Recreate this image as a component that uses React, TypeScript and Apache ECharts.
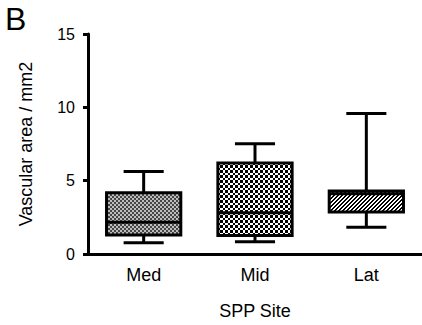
import React, { useEffect, useRef } from "react";
import * as echarts from "echarts";

const categories = ["Med", "Mid", "Lat"];
const whiskerLow = [0.76, 0.83, 1.83];
const q1 = [1.3, 1.26, 2.87];
const median = [2.16, 2.81, 4.1];
const q3 = [4.17, 6.2, 4.3];
const whiskerHigh = [5.63, 7.52, 9.58];
const yTicks = [0, 5, 10, 15];
const yTitle = "Vascular area / mm2";
const xTitle = "SPP Site";
const panelLetter = "B";

function makePattern(kind: string) {
  const c = document.createElement("canvas");
  let w = 4, h = 4;
  if (kind === "mid") { w = 5; h = 5; }
  c.width = w; c.height = h;
  const ctx = c.getContext("2d")!;
  if (kind === "med") {
    ctx.fillStyle = "#bdbdbd";
    ctx.fillRect(0, 0, 4, 4);
    ctx.fillStyle = "#454545";
    ctx.fillRect(0, 0, 2, 2);
    ctx.fillRect(2, 2, 2, 2);
  } else if (kind === "mid") {
    ctx.fillStyle = "#ffffff";
    ctx.fillRect(0, 0, 5, 5);
    ctx.fillStyle = "#000000";
    ctx.fillRect(0, 0, 3, 3);
    ctx.fillRect(3, 3, 2, 2);
  } else {
    ctx.fillStyle = "#ffffff";
    ctx.fillRect(0, 0, 4, 4);
    ctx.fillStyle = "#000000";
    for (let x = 0; x < 4; x++) {
      for (let y = 0; y < 4; y++) {
        if ((x + y) % 4 < 2) ctx.fillRect(x, y, 1, 1);
      }
    }
  }
  return { image: c, repeat: "repeat", imageWidth: w, imageHeight: h } as any;
}

export default function App() {
  const ref = useRef<HTMLDivElement>(null);
  useEffect(() => {
    if (!ref.current) return;
    const chart = echarts.init(ref.current, null, { renderer: "svg" });
    const patterns = [makePattern("med"), makePattern("mid"), makePattern("lat")];
    const data = categories.map((_, i) => [i, whiskerLow[i], q1[i], median[i], q3[i], whiskerHigh[i]]);
    const font = "'Liberation Sans', Arial, Helvetica, sans-serif";
    chart.setOption({
      animation: false,
      grid: { left: 88, right: 0, top: 34, bottom: 67 },
      graphic: [
        {
          type: "text",
          left: 5,
          top: 3,
          style: { text: panelLetter, fontSize: 32, fontFamily: font, fill: "#000" },
        },
      ],
      xAxis: {
        type: "category",
        data: categories,
        name: xTitle,
        nameLocation: "middle",
        nameGap: 48,
        nameTextStyle: { fontSize: 18, fontFamily: font, color: "#000" },
        axisLine: { lineStyle: { color: "#000", width: 3 } },
        axisTick: { alignWithLabel: true, length: 5, lineStyle: { color: "#000", width: 3 } },
        axisLabel: { fontSize: 18, fontFamily: font, color: "#000", margin: 12 },
        splitLine: { show: false },
      },
      yAxis: {
        type: "value",
        min: yTicks[0],
        max: yTicks[yTicks.length - 1],
        interval: 5,
        name: yTitle,
        nameLocation: "middle",
        nameGap: 53,
        nameTextStyle: { fontSize: 18, fontFamily: font, color: "#000" },
        axisLine: { show: true, lineStyle: { color: "#000", width: 3 } },
        axisTick: { show: true, length: 5, lineStyle: { color: "#000", width: 3 } },
        axisLabel: { fontSize: 16, fontFamily: font, color: "#000", margin: 13 },
        splitLine: { show: false },
      },
      series: [
        {
          type: "custom",
          data: data,
          encode: { x: 0, y: [1, 2, 3, 4, 5] },
          renderItem: (params: any, api: any) => {
            const i = api.value(0);
            const cx = api.coord([i, 0])[0];
            const band = api.size([1, 0])[0];
            const boxW = band * 0.667;
            const capW = band * 0.36;
            const yLo = api.coord([i, api.value(1)])[1];
            const yQ1 = api.coord([i, api.value(2)])[1];
            const yMed = api.coord([i, api.value(3)])[1];
            const yQ3 = api.coord([i, api.value(4)])[1];
            const yHi = api.coord([i, api.value(5)])[1];
            const ls = { stroke: "#000", lineWidth: 3, lineCap: "butt" };
            return {
              type: "group",
              children: [
                { type: "line", shape: { x1: cx, y1: yHi, x2: cx, y2: yQ3 }, style: ls },
                { type: "line", shape: { x1: cx, y1: yQ1, x2: cx, y2: yLo }, style: ls },
                { type: "line", shape: { x1: cx - capW / 2, y1: yHi, x2: cx + capW / 2, y2: yHi }, style: ls },
                { type: "line", shape: { x1: cx - capW / 2, y1: yLo, x2: cx + capW / 2, y2: yLo }, style: ls },
                {
                  type: "rect",
                  shape: { x: cx - boxW / 2, y: yQ3, width: boxW, height: yQ1 - yQ3 },
                  style: { fill: patterns[i], stroke: "#000", lineWidth: 3 },
                },
                { type: "line", shape: { x1: cx - boxW / 2, y1: yMed, x2: cx + boxW / 2, y2: yMed }, style: ls },
              ],
            };
          },
        },
      ],
    });
    return () => chart.dispose();
  }, []);
  return <div ref={ref} style={{ width: 422, height: 325, position: "absolute", left: 0, top: 0 }} />;
}
